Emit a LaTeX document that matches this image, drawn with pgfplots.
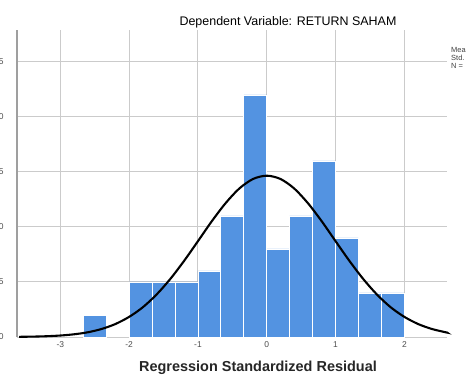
\documentclass[border=0pt]{standalone}
\usepackage{fontspec}
\setmainfont{Liberation Sans}
\usepackage{pgfplots}
\pgfplotsset{compat=1.18}
\definecolor{barblue}{HTML}{5393E1}
\definecolor{gridgray}{HTML}{CBCBCB}
\begin{document}
\begin{tikzpicture}[x=1bp,y=1bp]
\useasboundingbox (0,0) rectangle (466,378);
\clip (0,0) rectangle (466,378);
\begin{axis}[
  at={(17bp,41bp)}, anchor=south west,
  scale only axis, width=430bp, height=307bp,
  xmin=-3.63, xmax=2.62, ymin=0, ymax=27.9,
  xtick={-3,-2,-1,0,1,2},
  ytick={0,5,10,15,20,25},
  grid=major,
  major grid style={gridgray, line width=1pt},
  axis line style={draw=none},
  tick style={draw=none},
  /pgf/number format/assume math mode=true,
  xticklabel style={font=\fontsize{8.5}{9}\selectfont, text=black!70, yshift=-1bp},
  yticklabel style={font=\fontsize{8.5}{9}\selectfont, text=black!70, anchor=east, xshift=-10bp},
  clip=false,
]
\addplot[ybar interval, fill=barblue, draw=white, line width=0.8pt] coordinates {
(-2.667,2) (-2.333,2)};
\addplot[ybar interval, fill=barblue, draw=white, line width=0.8pt] coordinates {
(-2,5) (-1.667,5) (-1.333,5) (-1,6) (-0.667,11) (-0.333,22) (0,8)
(0.333,11) (0.667,16) (1,9) (1.333,4) (1.667,4) (2,4)};
\addplot[black, line width=2.1pt, smooth] coordinates {
(-3.6,0.017) (-3.4,0.036) (-3.2,0.071) (-3.0,0.135) (-2.8,0.247) (-2.6,0.43)
(-2.4,0.73) (-2.2,1.18) (-2.0,1.83) (-1.8,2.71) (-1.6,3.87) (-1.4,5.29)
(-1.2,6.93) (-1.0,8.71) (-0.8,10.51) (-0.6,12.15) (-0.4,13.49) (-0.2,14.36)
(0,14.66) (0.2,14.36) (0.4,13.49) (0.6,12.15) (0.8,10.51) (1.0,8.71)
(1.2,6.93) (1.4,5.29) (1.6,3.87) (1.8,2.71) (2.0,1.83) (2.2,1.18)
(2.4,0.73) (2.6,0.43) (2.62,0.41)};
\draw[gray!75, line width=1.4pt] (axis cs:-3.63,0) -- (axis cs:-3.63,27.9);
\end{axis}
\begin{scope}
\clip (0,0) rectangle (466,361);
\node[font=\fontsize{12.5}{14}\selectfont, anchor=base] at (288,353) {Dependent Variable: RETURN SAHAM};
\end{scope}
\node[font=\fontsize{14.5}{16}\selectfont\bfseries, text=black!85, anchor=base] at (258,7) {Regression Standardized Residual};
\node[font=\fontsize{7.5}{8}\selectfont, text=black!75, anchor=north west, align=left, inner sep=0pt] at (451,331) {Mean\\Std. Dev.\\N =};
\end{tikzpicture}
\end{document}
